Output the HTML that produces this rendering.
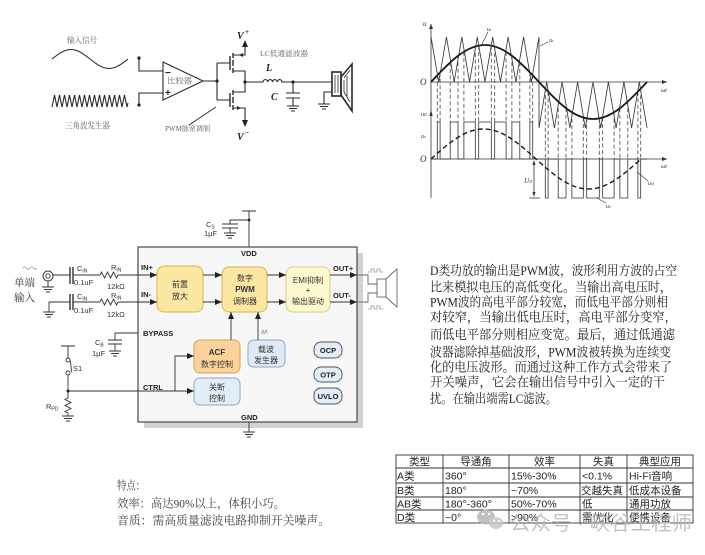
<!DOCTYPE html>
<html><head><meta charset="utf-8"><style>
html,body{margin:0;padding:0;background:#fff;}
svg{display:block;}
.cn{font-family:"Liberation Serif","Noto Serif CJK SC",serif;}
.sn{font-family:"Liberation Sans","Noto Sans CJK SC",sans-serif;}
.it{font-family:"Liberation Serif",serif;font-style:italic;}
</style></head><body>
<svg width="705" height="555" viewBox="0 0 705 555" xmlns="http://www.w3.org/2000/svg">
<defs>
<marker id="a" markerWidth="7" markerHeight="6" refX="7" refY="3" orient="auto" markerUnits="userSpaceOnUse"><path d="M0,0 L7,3 L0,6z" fill="#222"/></marker>
<marker id="s" markerWidth="5" markerHeight="4" refX="5" refY="2" orient="auto" markerUnits="userSpaceOnUse"><path d="M0,0 L5,2 L0,4z" fill="#333"/></marker>
</defs>
<rect width="705" height="555" fill="#fff"/>

<!-- ============ TOP-LEFT CIRCUIT ============ -->
<g fill="none" stroke="#2a2a2a" stroke-width="1.1">
<path d="M52,59 C58.2,54.13 64.13,49.5 71,49.5 C77.87,49.5 83.8,54.13 90,59 C96.2,63.87 102.13,68.5 109,68.5 C115.87,68.5 121.8,63.87 128,59"/>
<polyline points="52,107 54.5,95 57,107 59.5,95 62,107 64.5,95 67,107 69.5,95 72,107 74.5,95 77,107 79.5,95 82,107 84.5,95 87,107 89.5,95 92,107 94.5,95 97,107 99.5,95 102,107 104.5,95 107,107 109.5,95 112,107 114.5,95 117,107 119.5,95 122,107 124.5,95 127,107 128,103"/>
<polygon points="163,62 163,100 203,81"/>
<path d="M139,58 V71 H163 M139,105 V93 H163"/>
<path d="M203,81 H217 M217,63 V100 M217,63 H230 M217,100 H230"/>
<path d="M230,56 V70 M230,93 V107" stroke-width="1.4"/>
<path d="M233,53 V58 M233,60 V66 M233,68 V73 M233,90 V95 M233,97 V103 M233,105 V110" stroke-width="1.4"/>
<path d="M233,55 H245 V46 M233,71 H245 V82 M233,92 H245 V82 M233,108 H245 V121"/>
<path d="M245,82 H263 a2.4,2.8 0 0 1 4.75,0 a2.4,2.8 0 0 1 4.75,0 a2.4,2.8 0 0 1 4.75,0 a2.4,2.8 0 0 1 4.75,0 H332"/>
<path d="M293,82 V93 M286,93 H300 M286,98 H300 M293,98 V106 M287,106 H299 M289,108.5 H297 M291,111 H295"/>
<path d="M332,92 H324 V104 M318,104 H330 M320,106.5 H328 M322,109 H326"/>
<path d="M216,107 L189,125" stroke-width="0.9"/>
<rect x="332" y="72" width="9" height="24" stroke-width="1.6"/>
<path d="M335,75 V93 M338,75 V93" stroke-width="0.8"/>
<polygon points="341,77 352,64 352,111 341,95" stroke-width="1.6"/>
<path d="M344,78 L350,70 M344,92 L350,102 M344,80 V92 M347,76 V96" stroke-width="0.8"/>
</g>
<polygon points="245,40 242,47 248,47" fill="#222"/>
<polygon points="245,127 242,120 248,120" fill="#222"/>
<polygon points="239,55 243,53 243,57" fill="#222"/>
<polygon points="241,108 237,106 237,110" fill="#222"/>
<g fill="#222"><circle cx="139" cy="58" r="1.6"/><circle cx="139" cy="105" r="1.6"/><circle cx="217" cy="81" r="1.6"/><circle cx="245" cy="82" r="1.6"/><circle cx="293" cy="82" r="1.6"/></g>
<g class="cn" fill="#666">
<text x="67" y="43" font-size="8" textLength="30" lengthAdjust="spacingAndGlyphs">输入信号</text>
<text x="65" y="128.5" font-size="8.5" textLength="45" lengthAdjust="spacingAndGlyphs">三角波发生器</text>
<text x="165" y="131" font-size="7.5" textLength="45" lengthAdjust="spacingAndGlyphs">PWM脉宽调制</text>
<text x="260" y="56" font-size="7.5" textLength="48" lengthAdjust="spacingAndGlyphs">LC低通滤波器</text>
<text x="167" y="83.5" font-size="8" textLength="25" lengthAdjust="spacingAndGlyphs">比较器</text>
</g>
<g fill="#222" class="sn" font-weight="bold"><text x="165" y="76" font-size="10">−</text><text x="165" y="96" font-size="10">+</text></g>
<g class="it" fill="#222" font-weight="bold">
<text x="237" y="39" font-size="10">V</text><text x="245" y="34" font-size="7">+</text>
<text x="237" y="140" font-size="10">V</text><text x="245" y="135" font-size="7">−</text>
<text x="266" y="71" font-size="10">L</text>
<text x="271" y="100" font-size="10">C</text>
</g>

<!-- ============ TOP-RIGHT WAVEFORMS ============ -->
<g fill="none" stroke="#333" stroke-width="0.8">
<path d="M431,198 V24" marker-end="url(#s)"/>
<path d="M431,82 H667" marker-end="url(#s)"/>
<path d="M431,159 H667" marker-end="url(#s)"/>
<polyline points="431,37 438.71,82 446.43,37 454.14,82 461.86,37 469.57,82 477.29,37 485,82 492.71,37 500.43,82 508.14,37 515.86,82 523.57,37 531.29,82 539,37 539,128 546.7,82 554.4,128 562.1,82 569.9,128 577.6,82 585.3,128 593,82 600.7,128 608.4,82 616.1,128 623.9,82 631.6,128 639.3,82 647,128"/>
<path d="M431,159 H437.3 V122 H440.1 V159 H450.2 V122 H458 V159 H463.9 V122 H475.3 V159 H478.7 V122 H491.3 V159 H494.7 V122 H506.1 V159 H511.9 V122 H519.8 V159 H529.9 V122 H532.7 V159 H539"/>
<path d="M539,159 H545.3 V198 H548.1 V159 H558.2 V198 H566 V159 H571.9 V198 H583.3 V159 H586.7 V198 H599.3 V159 H602.7 V198 H614.1 V159 H619.9 V198 H627.8 V159 H637.9 V198 H640.7 V159 H647"/>
<path d="M534,161 V196 M529,198 H540" />
<path d="M488,32 L482,44 M548,42 L540,46 M648,181 L637,172 M606,203 L597,198" stroke-width="0.6"/>
</g>
<polygon points="431,110 429.3,116 432.7,116" fill="#333"/>
<polygon points="534,160 532.5,165 535.5,165" fill="#333"/>
<polygon points="534,197 532.5,192 535.5,192" fill="#333"/>
<path d="M431,82 C448.61,63.05 465.46,45 485,45 C504.54,45 521.39,63.05 539,82 C556.61,100.95 573.46,119 593,119 C612.54,119 629.39,100.95 647,82" fill="none" stroke="#1a1a1a" stroke-width="1.8"/>
<path d="M431,159 C448.12,143.63 464.5,129 483.5,129 C502.5,129 518.88,143.63 536,159 C553.12,174.37 569.5,189 588.5,189 C607.5,189 623.88,174.37 641,159" fill="none" stroke="#1a1a1a" stroke-width="1.4" stroke-dasharray="5,3"/>
<g stroke="#444" stroke-width="0.8" stroke-dasharray="4,2.5" fill="none">
<path d="M437.3,75.3 V122 M440.1,72.3 V122 M450.2,62.4 V122 M458,55.8 V122 M463.9,51.8 V122 M475.3,46.5 V122 M478.7,45.6 V122 M491.3,45.6 V122 M494.7,46.5 V122 M506.1,51.8 V122 M511.9,55.7 V122 M519.8,62.4 V122 M529.9,72.3 V122 M532.7,75.3 V122"/>
<path d="M545.3,88.7 V159 M548.1,91.7 V159 M558.2,101.6 V159 M566,108.2 V159 M571.9,112.2 V159 M583.3,117.5 V159 M586.7,118.4 V159 M599.3,118.4 V159 M602.7,117.5 V159 M614.1,112.2 V159 M619.9,108.3 V159 M627.8,101.6 V159 M637.9,91.7 V159 M640.7,88.7 V159"/>
</g>
<g class="it" fill="#333">
<text x="423" y="26" font-size="7">u</text>
<text x="420" y="85" font-size="9">O</text>
<text x="661" y="92" font-size="6">ωt</text>
<text x="421" y="116" font-size="6">u<tspan font-size="4">D</tspan></text>
<text x="421" y="138" font-size="6">u<tspan font-size="4">o</tspan></text>
<text x="420" y="162" font-size="9">O</text>
<text x="661" y="168" font-size="6">ωt</text>
<text x="524" y="183" font-size="7">U<tspan font-size="4.5">D</tspan></text>
<text x="487" y="31" font-size="6">u<tspan font-size="4">r</tspan></text>
<text x="549" y="42" font-size="6">u<tspan font-size="4">c</tspan></text>
<text x="648" y="185" font-size="6">u<tspan font-size="4">of</tspan></text>
<text x="606" y="208" font-size="6">u<tspan font-size="4">o</tspan></text>
</g>

<!-- ============ BLOCK DIAGRAM ============ -->
<rect x="144" y="253" width="219" height="175" fill="#d2d2d2"/>
<rect x="138" y="247" width="219" height="175" fill="#f7f7f7" stroke="#555" stroke-width="1.3"/>
<rect x="157" y="266" width="46" height="46" rx="7" fill="#fbe6a2" stroke="#d6b457" stroke-width="1"/>
<rect x="222" y="267" width="45" height="45" rx="7" fill="#fbe6a2" stroke="#d6b457" stroke-width="1"/>
<rect x="286" y="267" width="44" height="45" rx="7" fill="#fdf8cf" stroke="#d6cc85" stroke-width="1"/>
<rect x="194" y="340" width="46" height="33" rx="6" fill="#fbd39a" stroke="#d6a35c" stroke-width="1"/>
<rect x="248" y="340" width="37" height="27" rx="6" fill="#dfeaf6" stroke="#8ea7c6" stroke-width="1"/>
<rect x="194" y="378" width="46" height="27" rx="6" fill="#e2edf8" stroke="#8ea7c6" stroke-width="1"/>
<rect x="314" y="342" width="28" height="16" rx="7" fill="#e2edf8" stroke="#555" stroke-width="1"/>
<rect x="314" y="367" width="28" height="15" rx="7" fill="#e2edf8" stroke="#555" stroke-width="1"/>
<rect x="314" y="388" width="28" height="16" rx="7" fill="#e2edf8" stroke="#555" stroke-width="1"/>

<g fill="none" stroke="#333" stroke-width="0.9">
<path d="M118,275 H157" marker-end="url(#a)"/>
<path d="M118,302 H157" marker-end="url(#a)"/>
<path d="M203,275 H222" marker-end="url(#a)"/>
<path d="M203,302 H222" marker-end="url(#a)"/>
<path d="M267,275 H286" marker-end="url(#a)"/>
<path d="M267,302 H286" marker-end="url(#a)"/>
<path d="M330,275 H357" marker-end="url(#a)"/>
<path d="M330,302 H357" marker-end="url(#a)"/>
<path d="M231,340 V312" marker-end="url(#a)"/>
<path d="M258,340 V312" marker-end="url(#a)"/>
<path d="M68,391 H194" marker-end="url(#a)"/>
<path d="M175,391 V356 H194" marker-end="url(#a)"/>
<path d="M249,247 V211 M242,211 H256 M249,220 H230 V224 M222,224 H238 M222,228 H238 M230,228 V233 M224,233 H236 M226,235.5 H234 M228,238 H232"/>
<path d="M249,422 V432 M243,432 H255 M245,434.5 H253 M247,437 H251"/>
<circle cx="48" cy="276" r="5"/>
<circle cx="48" cy="276" r="2.2"/>
<path d="M48,281 V287 M42,287 H54 M44,289.5 H52 M46,292 H50"/>
<path d="M53,275 H70 M73,275 H100"/>
<path d="M100,275 l1.5,-3 l3,6 l3,-6 l3,6 l3,-6 l3,6 l1.5,-3"/>
<path d="M49,302 H70 M73,302 H100 M49,302 V312 M43,312 H55 M45,314.5 H53 M47,317 H51"/>
<path d="M100,302 l1.5,-3 l3,6 l3,-6 l3,6 l3,-6 l3,6 l1.5,-3"/>
<path d="M138,333 H115 V340 M108,340 H122 M108,344 H122 M115,344 V351 M109,351 H121 M111,353.5 H119 M113,356 H117"/>
<path d="M61,346 H75 M68,346 V358 M68,375 V391"/>
<circle cx="68" cy="360" r="2"/>
<circle cx="68" cy="373" r="2"/>
<path d="M70.5,361 L71.5,372"/>
<path d="M68,391 V398 l-3,1.5 l6,3 l-6,3 l6,3 l-6,3 l3,1.5 V416 M62,416 H74 M64,418.5 H72 M66,421 H70"/>
<path d="M357,275 H368 V284 H377 M357,302 H368 V293 H377" stroke="#666"/>
<rect x="377" y="279" width="9" height="18" stroke="#666"/>
<polygon points="386,279 397,269 397,307 386,297" stroke="#666"/>
</g>
<path d="M70,267 V284 M73,267 V284 M70,294 V310 M73,294 V310" stroke="#333" stroke-width="1.4"/>
<g fill="none" stroke="#999" stroke-width="0.8">
<path d="M23,268 q1.75,-2.5 3.5,0 t3.5,0 t3.5,0 t3.5,0"/>
<path d="M368,272 h3 v-3 h3 v3 h3 v-3 h3 v3 h3"/>
<path d="M368,309 h3 v-3 h3 v3 h3 v-3 h3 v3 h3"/>
<path d="M261,334 l2,-4 l1,4 l2,-4 l1,4"/>
</g>
<g fill="#222"><circle cx="249" cy="220" r="1.4"/><circle cx="68" cy="391" r="1.5"/></g>

<g class="sn" fill="#222" font-weight="bold" font-size="7.5">
<text x="141" y="270">IN+</text>
<text x="141" y="297">IN-</text>
<text x="143" y="336">BYPASS</text>
<text x="143" y="390">CTRL</text>
<text x="241" y="256">VDD</text>
<text x="241" y="420">GND</text>
<text x="333" y="271">OUT+</text>
<text x="333" y="298">OUT-</text>
<text x="328" y="353" text-anchor="middle">OCP</text>
<text x="328" y="377.5" text-anchor="middle">OTP</text>
<text x="328" y="399" text-anchor="middle">UVLO</text>
</g>
<g class="sn" fill="#333" font-size="8" text-anchor="middle">
<text x="180" y="287">前置</text>
<text x="180" y="299">放大</text>
<text x="245" y="281">数字</text>
<text x="245" y="292" font-weight="bold">PWM</text>
<text x="245" y="304">调制器</text>
<text x="308" y="283">EMI抑制</text>
<text x="308" y="293">+</text>
<text x="308" y="304">输出驱动</text>
<text x="217" y="355" font-weight="bold">ACF</text>
<text x="217" y="367">数字控制</text>
<text x="266" y="352">载波</text>
<text x="266" y="363">发生器</text>
<text x="217" y="390">关断</text>
<text x="217" y="401">控制</text>
</g>
<g class="sn" fill="#333" font-size="7.5">
<text x="77" y="271">C<tspan font-size="5" dy="1.5">IN</tspan></text>
<text x="74" y="285">0.1uF</text>
<text x="111" y="270">R<tspan font-size="5" dy="1.5">IN</tspan></text>
<text x="107" y="289">12kΩ</text>
<text x="77" y="299">C<tspan font-size="5" dy="1.5">IN</tspan></text>
<text x="74" y="313">0.1uF</text>
<text x="111" y="298">R<tspan font-size="5" dy="1.5">IN</tspan></text>
<text x="107" y="317">12kΩ</text>
<text x="95" y="345">C<tspan font-size="5" dy="1.5">B</tspan></text>
<text x="92" y="356">1μF</text>
<text x="73" y="371">S1</text>
<text x="46" y="409">R<tspan font-size="5" dy="1.5">PD</tspan></text>
<text x="206" y="227">C<tspan font-size="5" dy="1.5">S</tspan></text>
<text x="204" y="236">1μF</text>
</g>
<g class="cn" fill="#333" font-size="10.5">
<text x="14" y="286">单端</text>
<text x="14" y="301">输入</text>
</g>

<!-- ============ PARAGRAPH ============ -->
<g class="cn" fill="#1e1e1e" font-size="13">
<text x="430" y="275" textLength="247" lengthAdjust="spacingAndGlyphs">D类功放的输出是PWM波，波形利用方波的占空</text>
<text x="430" y="291.5" textLength="242" lengthAdjust="spacingAndGlyphs">比来模拟电压的高低变化。当输出高电压时，</text>
<text x="430" y="306.5" textLength="238" lengthAdjust="spacingAndGlyphs">PWM波的高电平部分较宽，而低电平部分则相</text>
<text x="430" y="321.5" textLength="247" lengthAdjust="spacingAndGlyphs">对较窄，当输出低电压时，高电平部分变窄，</text>
<text x="430" y="339" textLength="245" lengthAdjust="spacingAndGlyphs">而低电平部分则相应变宽。最后，通过低通滤</text>
<text x="430" y="356.5" textLength="241" lengthAdjust="spacingAndGlyphs">波器滤除掉基础波形，PWM波被转换为连续变</text>
<text x="430" y="371.5" textLength="242" lengthAdjust="spacingAndGlyphs">化的电压波形。而通过这种工作方式会带来了</text>
<text x="430" y="386.5" textLength="235" lengthAdjust="spacingAndGlyphs">开关噪声，它会在输出信号中引入一定的干</text>
<text x="430" y="403" textLength="127" lengthAdjust="spacingAndGlyphs">扰。在输出端需LC滤波。</text>
</g>

<!-- ============ BOTTOM-LEFT TEXT ============ -->
<g class="cn" fill="#444" font-size="12">
<text x="117" y="489.5" textLength="28" lengthAdjust="spacingAndGlyphs">特点：</text>
<text x="117" y="507.5" textLength="168" lengthAdjust="spacingAndGlyphs">效率：高达90%以上，体积小巧。</text>
<text x="117" y="524.5" textLength="213" lengthAdjust="spacingAndGlyphs">音质：需高质量滤波电路抑制开关噪声。</text>
</g>

<!-- ============ TABLE ============ -->
<g fill="none" stroke="#333" stroke-width="0.9">
<rect x="396" y="455" width="297" height="68"/>
<path d="M396,468 H693 M396,483 H693 M396,497 H693 M396,510 H693"/>
<path d="M443,455 V523 M509,455 V523 M580,455 V523 M627,455 V523"/>
</g>
<g class="sn" fill="#222" font-size="10.5">
<g text-anchor="middle">
<text x="419.5" y="465">类型</text>
<text x="476" y="465">导通角</text>
<text x="544.5" y="465">效率</text>
<text x="603.5" y="465">失真</text>
<text x="660" y="465">典型应用</text>
</g>
<text x="397" y="479.5">A类</text><text x="445" y="479.5">360°</text><text x="511" y="479.5">15%-30%</text><text x="582" y="479.5">&lt;0.1%</text><text x="629" y="479.5">Hi-Fi音响</text>
<text x="397" y="494">B类</text><text x="445" y="494">180°</text><text x="511" y="494">~70%</text><text x="581" y="494">交越失真</text><text x="629" y="494">低成本设备</text>
<text x="397" y="507.5">AB类</text><text x="445" y="507.5">180°-360°</text><text x="511" y="507.5">50%-70%</text><text x="582" y="507.5">低</text><text x="629" y="507.5">通用功放</text>
<text x="397" y="521">D类</text><text x="445" y="521">~0°</text><text x="511" y="521">&gt;90%</text><text x="582" y="521">需优化</text><text x="629" y="521">便携设备</text>
</g>

<!-- ============ WATERMARK ============ -->
<g fill="#b8b8b8" opacity="0.85">
<ellipse cx="486" cy="517" rx="9" ry="7.5"/>
<ellipse cx="496" cy="523" rx="7" ry="6" fill="#c8c8c8"/>
<text class="sn" x="510" y="530" font-size="20" textLength="182" lengthAdjust="spacingAndGlyphs">公众号 · 峡谷工程师</text>
</g>
<g fill="#fff"><circle cx="483" cy="514" r="1.2"/><circle cx="489" cy="514" r="1.2"/><circle cx="494" cy="521" r="1"/><circle cx="499" cy="521" r="1"/></g>
</svg>
</body></html>
